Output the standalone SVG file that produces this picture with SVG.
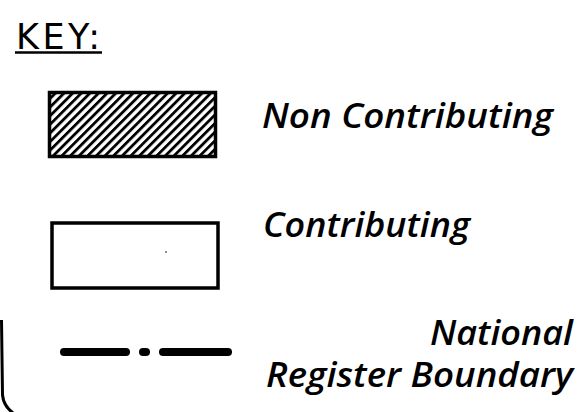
<svg xmlns="http://www.w3.org/2000/svg" width="587" height="412" viewBox="0 0 587 412">
<style>
.lbl{font-family:"Open Sans","DejaVu Sans",sans-serif;font-weight:600;font-style:italic;font-size:35px;fill:#000}
.box{stroke:#000;stroke-width:3.5}
</style>
<defs>
<pattern id="hatch" patternUnits="userSpaceOnUse" width="6.1" height="10" patternTransform="rotate(45)">
<rect x="0" y="0" width="2.8" height="10" fill="#000"/>
</pattern>
</defs>
<rect width="587" height="412" fill="#fff"/>
<g id="title">
<text x="16" y="49" font-family="'DejaVu Sans',sans-serif" font-size="35" textLength="84" lengthAdjust="spacing" fill="#000">KEY:</text>
<line x1="15" y1="52.5" x2="102" y2="52.5" stroke="#000" stroke-width="2.5"/>
</g>
<g id="non-contributing">
<rect class="box" x="49.5" y="92.5" width="166" height="64" fill="url(#hatch)"/>
<text class="lbl" x="262" y="128" textLength="291" lengthAdjust="spacingAndGlyphs">Non Contributing</text>
</g>
<g id="contributing">
<rect class="box" x="52" y="223" width="166" height="65" fill="#fff"/>
<circle cx="166" cy="252" r="0.8" fill="#000"/>
<text class="lbl" x="263" y="237" textLength="207" lengthAdjust="spacingAndGlyphs">Contributing</text>
</g>
<g id="boundary">
<line x1="64" y1="352" x2="126" y2="352" stroke="#000" stroke-width="8" stroke-linecap="round"/>
<line x1="143" y1="352" x2="146" y2="352" stroke="#000" stroke-width="8" stroke-linecap="round"/>
<line x1="163" y1="352" x2="228" y2="352" stroke="#000" stroke-width="8" stroke-linecap="round"/>
<text class="lbl" x="430" y="345" textLength="143" lengthAdjust="spacingAndGlyphs">National</text>
<text class="lbl" x="266" y="387" textLength="307" lengthAdjust="spacingAndGlyphs">Register Boundary</text>
</g>
<g id="connectors">
<path d="M1.5 320 L2.5 395 Q3.5 406 13 413" fill="none" stroke="#000" stroke-width="3"/>
</g>
</svg>
